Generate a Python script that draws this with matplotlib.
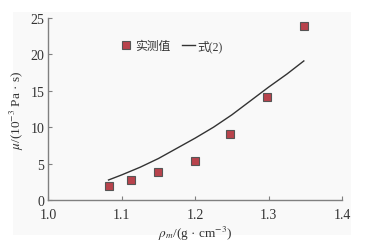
import matplotlib
matplotlib.use("Agg")
import matplotlib.pyplot as plt
from matplotlib.patches import Rectangle

plt.rcParams['font.family'] = ['Liberation Serif', 'Noto Sans CJK SC']
plt.rcParams['mathtext.fontset'] = 'stix'

# measured values
rho_meas = [1.082, 1.113, 1.150, 1.200, 1.248, 1.298, 1.348]
mu_meas = [1.96, 2.75, 3.8, 5.3, 9.1, 14.1, 23.9]

# equation (2) curve
rho_eq = [1.082, 1.10, 1.125, 1.15, 1.175, 1.20, 1.225, 1.25, 1.275, 1.30, 1.325, 1.348]
mu_eq = [2.75, 3.45, 4.5, 5.7, 7.1, 8.5, 10.0, 11.7, 13.6, 15.5, 17.3, 19.1]

xticks = [1.0, 1.1, 1.2, 1.3, 1.4]
yticks = [0, 5, 10, 15, 20, 25]

fig = plt.figure(figsize=(3.79, 2.53), dpi=100)
fig.patches.append(Rectangle((13/379, 1-236/253), (351-13)/379, (236-13)/253,
                             transform=fig.transFigure, facecolor='#f9f9f9',
                             edgecolor='none', zorder=-10))
ax = fig.add_axes([0.1275, 0.2055, 0.9024-0.1275, 0.925-0.2055])
ax.set_zorder(5)
ax.set_facecolor('none')

ax.plot(rho_eq, mu_eq, color='#333333', lw=1.0, label='式(2)', zorder=2)
ax.plot(rho_meas, mu_meas, ls='none', marker='s', ms=5.5, mfc='#b8434c',
        mec='#555555', mew=0.8, label='实测值', zorder=3)

ax.set_xlim(1.0, 1.4)
ax.set_ylim(0, 25)
ax.set_xticks(xticks)
ax.set_xticklabels([f'{v:.1f}' for v in xticks])
ax.set_yticks(yticks)
for s in ['top', 'right']:
    ax.spines[s].set_visible(False)
for s in ['left', 'bottom']:
    ax.spines[s].set_color('#808080')
    ax.spines[s].set_linewidth(1.0)
ax.tick_params(direction='in', length=3, width=0.8, color='#808080',
               labelsize=10, labelcolor='#333333')
ax.tick_params(axis='x', pad=6)
ax.tick_params(axis='y', pad=3)

ax.set_xlabel(r'$\rho_m$/(g · cm$^{-3}$)', fontsize=9.5, color='#333333', labelpad=2)
ax.set_ylabel(r'$\mu$/(10$^{-3}$ Pa · s)', fontsize=9.5, color='#333333', labelpad=3)

h, l = ax.get_legend_handles_labels()
ax.legend([h[1], h[0]], [l[1], l[0]], ncol=2, frameon=False, loc='center left',
          bbox_to_anchor=(120/379, 1-47/253), bbox_transform=fig.transFigure,
          fontsize=8.5, handlelength=1.1, borderpad=0, borderaxespad=0,
          handletextpad=0.2, columnspacing=1.0, labelcolor='#333333')

fig.savefig('out.png', dpi=100)
